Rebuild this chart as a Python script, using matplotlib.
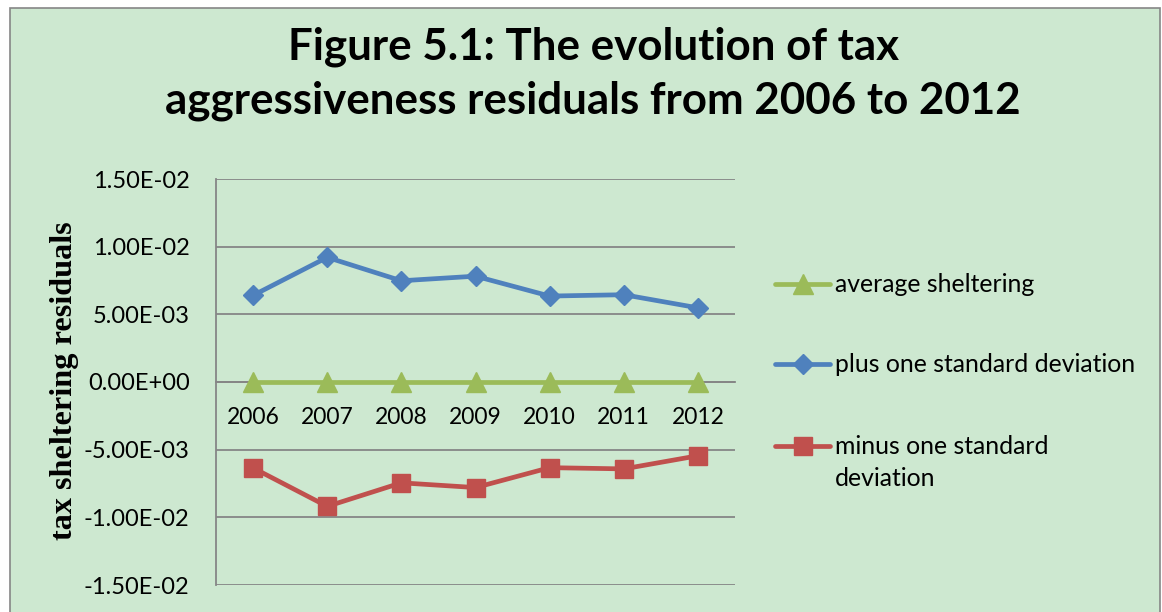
import matplotlib
matplotlib.use('Agg')
import matplotlib.pyplot as plt
from matplotlib.patches import Rectangle
from matplotlib.lines import Line2D
from matplotlib.ticker import FuncFormatter, MultipleLocator

W, H = 1162, 612
BG = '#cde8d0'
GRID = '#868686'

# data
years = ['2006', '2007', '2008', '2009', '2010', '2011', '2012']
average_sheltering = [0.0, 0.0, 0.0, 0.0, 0.0, 0.0, 0.0]
plus_one_sd = [6.40e-3, 9.21e-3, 7.48e-3, 7.82e-3, 6.35e-3, 6.45e-3, 5.48e-3]
minus_one_sd = [-6.35e-3, -9.19e-3, -7.45e-3, -7.80e-3, -6.33e-3, -6.42e-3, -5.45e-3]

series = [
    ('average sheltering', average_sheltering, '#9bbb59', '^', 14),
    ('plus one standard deviation', plus_one_sd, '#4f81bd', 'D', 10),
    ('minus one standard\ndeviation', minus_one_sd, '#c0504d', 's', 13.5),
]

plt.rcParams['font.family'] = ['Lato', 'DejaVu Sans']

fig = plt.figure(figsize=(W / 100, H / 100), dpi=100)
fig.patch.set_facecolor('white')
# chart area with its grey border
fig.add_artist(Rectangle((10 / W, -0.05), 1150 / W, 1 - 8 / H + 0.05,
                         transform=fig.transFigure, facecolor=BG,
                         edgecolor=GRID, lw=1.2, zorder=0))

ax = fig.add_axes([216 / W, 27 / H, 519 / W, 406 / H])
ax.set_facecolor('none')
x = list(range(len(years)))
for label, vals, color, marker, ms in series:
    ax.plot(x, vals, color=color, lw=3.4, marker=marker, markersize=ms,
            solid_capstyle='round', zorder=3)

ax.set_xlim(-0.5, 6.5)
ax.set_ylim(-0.015, 0.015)
ax.yaxis.set_major_locator(MultipleLocator(0.005))
ax.yaxis.set_major_formatter(FuncFormatter(lambda v, p: '{:.2E}'.format(v)))
ax.set_xticks(x)
ax.set_xticklabels(years)
ax.yaxis.grid(True, color=GRID, lw=1.3)
ax.set_axisbelow(True)
for s in ['top', 'right']:
    ax.spines[s].set_visible(False)
ax.spines['left'].set_color(GRID)
ax.spines['left'].set_linewidth(1.3)
ax.spines['bottom'].set_position(('data', 0))
ax.spines['bottom'].set_color(GRID)
ax.spines['bottom'].set_linewidth(1.3)
ax.tick_params(axis='both', length=0, colors='black')
ax.tick_params(axis='y', pad=19, labelsize=17)
ax.tick_params(axis='x', pad=18, labelsize=16.5)

fig.text(65 / W, 1 - 381 / H, 'tax sheltering residuals', rotation=90,
         ha='center', va='center', fontsize=23.2, fontweight='bold',
         family='Liberation Serif')

fig.text(593 / W, 1 - 74 / H,
         'Figure 5.1: The evolution of tax\naggressiveness residuals from 2006 to 2012',
         ha='center', va='center', fontsize=31.6, fontweight='bold', linespacing=1.42)

# legend drawn by hand so the marker sits on the first text line
legend_y = [284, 364, 446]
for (label, vals, color, marker, ms), ly in zip(series, legend_y):
    yf = 1 - ly / H
    fig.add_artist(Line2D([775 / W, 830 / W], [yf, yf], transform=fig.transFigure,
                          color=color, lw=3.4, solid_capstyle='round'))
    fig.add_artist(Line2D([802.5 / W], [yf], transform=fig.transFigure,
                          color=color, marker=marker, markersize=ms))
    if '\n' in label:
        fig.text(835 / W, yf + 11 / H, label, ha='left', va='top',
                 fontsize=17.8, linespacing=1.48)
    else:
        fig.text(835 / W, yf, label, ha='left', va='center', fontsize=17.8)

fig.savefig('out.png', dpi=100, facecolor='white')
